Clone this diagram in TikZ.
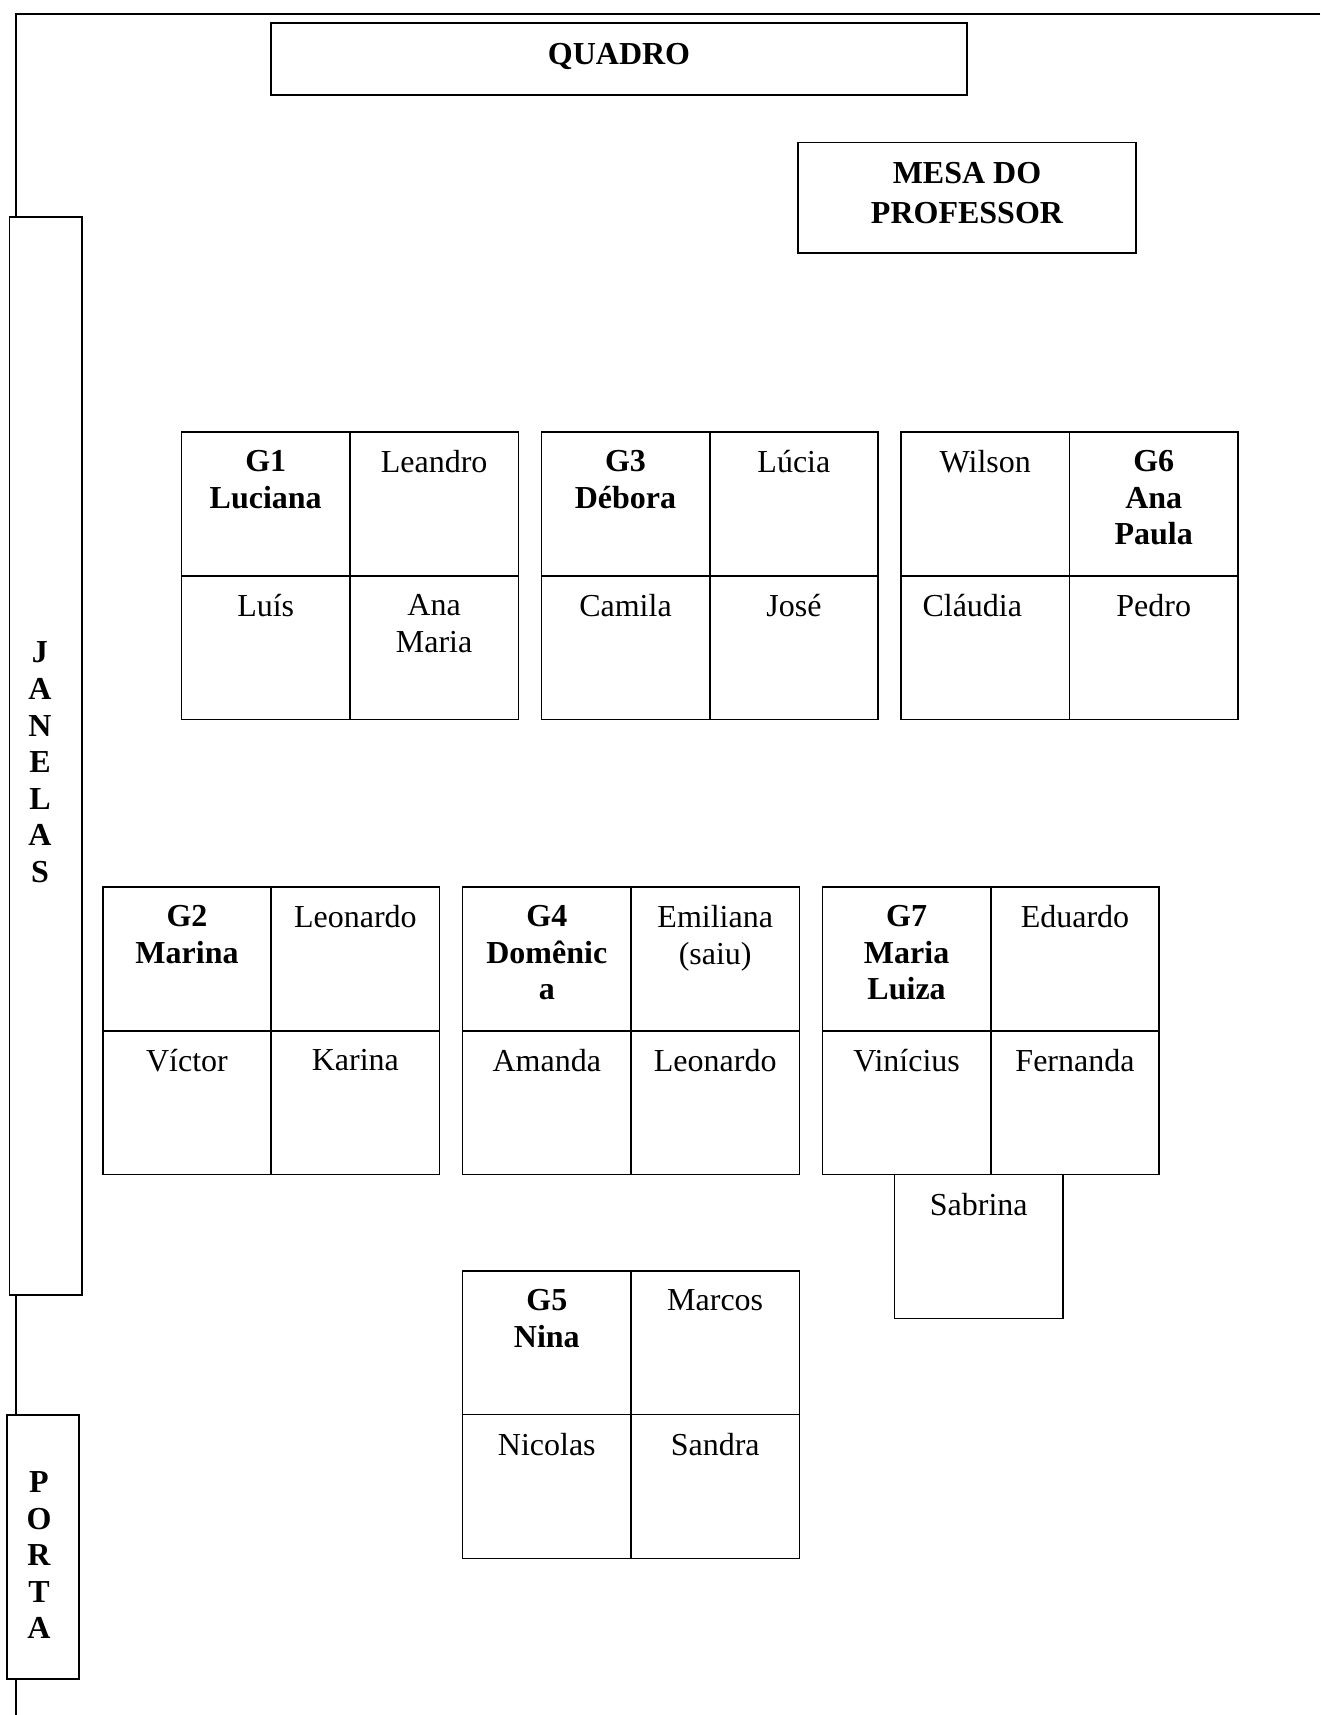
\documentclass[tikz,border=0pt]{standalone}
\usepackage{fontspec}
\setmainfont{Liberation Serif}

\newcommand{\nome}{\fontsize{32}{36.6}\selectfont}

\begin{document}
\begin{tikzpicture}[x=1pt, y=-1pt,
		wall/.style={line width=2.2pt},
		desk/.style={line width=1.6pt},
		aluno/.style={anchor=north, inner sep=0pt, align=center, font=\nome},
		lider/.style={aluno, font=\nome\bfseries}]
		\useasboundingbox (0,0) rectangle (1320,1715);

		% Janelas e porta
		\draw[desk] (9.5,217) rectangle (82,1295);
		\draw[desk] (7,1415) rectangle (79,1679);
		\node[lider] (janelas) at (40,641.7) {J\\A\\N\\E\\L\\A\\S};
		\node[lider] (porta) at (39,1471.4) {P\\O\\R\\T\\A};

		% Paredes
		\draw[wall] (1320,14) -- (15.7,14) -- (15.7,217);
		\draw[wall] (15.7,1295) -- (15.7,1415);
		\draw[wall] (15.7,1679) -- (15.7,1715);

		% Quadro e mesa do professor
		\draw[desk] (271,23) rectangle (967,95);
		\node[lider] (quadro) at (619,43.4) {QUADRO};
		\draw[desk] (798,142.7) rectangle (1136,253);
		\node[lider, font=\fontsize{32}{40}\selectfont\bfseries] (mesa) at (967,162) {MESA DO\\PROFESSOR};

		% Mesas dos grupos (2 x 2)
		\foreach \gx/\gy in {181.5/432, 541.3/432, 901.1/432, 102.8/887, 462.6/887, 822.4/887, 462.6/1270.8}
			\draw[desk] (\gx,\gy) rectangle ++(336.8,287.6)
				(\gx+168.4,\gy) -- ++(0,287.6)
				(\gx,\gy+143.8) -- ++(336.8,0);
		% Mesa extra do G7
		\draw[desk] (894.6,1174.6) rectangle ++(168.4,143.8);

		% G1
		\node[lider] (g1a) at (265.7,450.3) {G1\\Luciana};
		\node[aluno] (g1b) at (434.1,450.3) {Leandro};
		\node[aluno] (g1c) at (265.7,594.1) {Luís};
		\node[aluno] (g1d) at (434.1,594.1) {Ana\\Maria};
		% G3
		\node[lider] (g3a) at (625.5,450.3) {G3\\Débora};
		\node[aluno] (g3b) at (793.9,450.3) {Lúcia};
		\node[aluno] (g3c) at (625.5,594.1) {Camila};
		\node[aluno] (g3d) at (793.9,594.1) {José};
		% G6
		\node[aluno] (g6a) at (985.3,450.3) {Wilson};
		\node[lider] (g6b) at (1153.7,450.3) {G6\\Ana\\Paula};
		\node[aluno] (g6c) at (972.3,594.1) {Cláudia};
		\node[aluno] (g6d) at (1153.7,594.1) {Pedro};
		% G2
		\node[lider] (g2a) at (187,905.3) {G2\\Marina};
		\node[aluno] (g2b) at (355.4,905.3) {Leonardo};
		\node[aluno] (g2c) at (187,1049.1) {Víctor};
		\node[aluno] (g2d) at (355.4,1049.1) {Karina};
		% G4
		\node[lider] (g4a) at (546.8,905.3) {G4\\Domênic\\a};
		\node[aluno] (g4b) at (715.2,905.3) {Emiliana\\(saiu)};
		\node[aluno] (g4c) at (546.8,1049.1) {Amanda};
		\node[aluno] (g4d) at (715.2,1049.1) {Leonardo};
		% G7
		\node[lider] (g7a) at (906.6,905.3) {G7\\Maria\\Luiza};
		\node[aluno] (g7b) at (1075,905.3) {Eduardo};
		\node[aluno] (g7c) at (906.6,1049.1) {Vinícius};
		\node[aluno] (g7d) at (1075,1049.1) {Fernanda};
		\node[aluno] (g7e) at (978.8,1192.9) {Sabrina};
		% G5
		\node[lider] (g5a) at (546.8,1289.1) {G5\\Nina};
		\node[aluno] (g5b) at (715.2,1289.1) {Marcos};
		\node[aluno] (g5c) at (546.8,1432.9) {Nicolas};
		\node[aluno] (g5d) at (715.2,1432.9) {Sandra};
	\end{tikzpicture}
\end{document}
